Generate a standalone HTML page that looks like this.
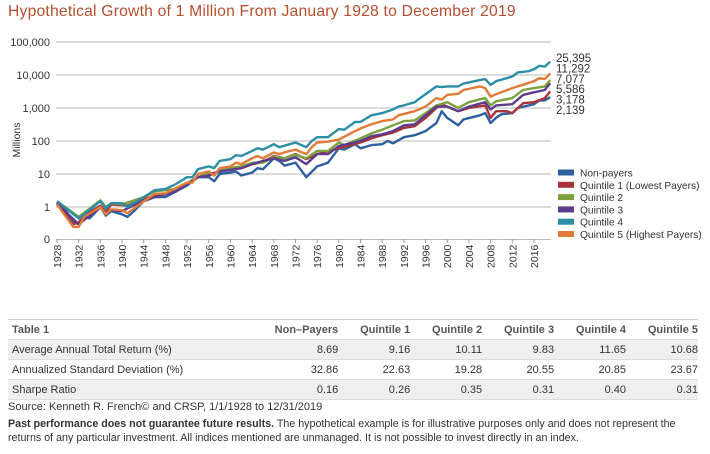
<!DOCTYPE html>
<html><head><meta charset="utf-8"><style>
body{margin:0;background:#fff;width:710px;height:454px;overflow:hidden;font-family:"Liberation Sans",sans-serif;}
.t{position:absolute;left:8px;top:3px;font-size:15.7px;color:#b4502e;letter-spacing:0.2px}
table{position:absolute;left:8px;top:319px;width:690px;border-collapse:collapse;font-size:11px;color:#333}
td{height:19px;padding:0;text-align:right;border-bottom:1px solid #ddd}
td:first-child{text-align:left;padding-left:4px}
tr.h td{font-weight:bold;color:#555;border-top:1px solid #ccc}
tr.g td{background:#efefef}
.s{position:absolute;left:8px;top:401px;font-size:11px;color:#333}
.d{position:absolute;left:8px;top:417px;font-size:10.7px;color:#333;line-height:14px;width:700px;white-space:nowrap}
</style></head><body>
<div class="t">Hypothetical Growth of 1 Million From January 1928 to December 2019</div>
<svg id="c" width="710" height="320" style="position:absolute;left:0;top:0" font-family="Liberation Sans, sans-serif"></svg>
<table>
<tr class="h"><td style="width:235px">Table 1</td><td>Non–Payers</td><td>Quintile 1</td><td>Quintile 2</td><td>Quintile 3</td><td>Quintile 4</td><td>Quintile 5</td></tr>
<tr class="g"><td>Average Annual Total Return (%)</td><td>8.69</td><td>9.16</td><td>10.11</td><td>9.83</td><td>11.65</td><td>10.68</td></tr>
<tr><td>Annualized Standard Deviation (%)</td><td>32.86</td><td>22.63</td><td>19.28</td><td>20.55</td><td>20.85</td><td>23.67</td></tr>
<tr class="g"><td>Sharpe Ratio</td><td>0.16</td><td>0.26</td><td>0.35</td><td>0.31</td><td>0.40</td><td>0.31</td></tr>
</table>
<div class="s">Source: Kenneth R. French© and CRSP, 1/1/1928 to 12/31/2019</div>
<div class="d"><b>Past performance does not guarantee future results.</b> The hypothetical example is for illustrative purposes only and does not represent the<br>returns of any particular investment. All indices mentioned are unmanaged. It is not possible to invest directly in an index.</div>
<script>
var s='',X=function(y){return 57+(y-1928)*5.42},Y=function(v){return 207-33*Math.log10(v)};
var labs=['100,000','10,000','1,000','100','10','1'];
for(var i=0;i<6;i++){var y=42+33*i;s+='<line x1="56" x2="551" y1="'+y+'" y2="'+y+'" stroke="#c8c8c8" stroke-width="1.3"/><text x="50" y="'+(y+4)+'" font-size="11" text-anchor="end" fill="#333">'+labs[i]+'</text>';}
s+='<line x1="56" x2="551" y1="239.5" y2="239.5" stroke="#bbb"/><text x="50" y="243" font-size="11" text-anchor="end" fill="#333">0</text>';
s+='<text transform="translate(20,140) rotate(-90)" font-size="10.5" text-anchor="middle" fill="#333">Millions</text>';
for(var yr=1928;yr<=2016;yr+=4){var x=X(yr);s+='<line x1="'+x+'" x2="'+x+'" y1="239" y2="243" stroke="#999"/><text transform="translate('+(x+4)+',268) rotate(-90)" font-size="10.5" fill="#333">'+yr+'</text>';}
var D={
'#2e5f9e':[1928,1.4,1929,1.1,1931,0.35,1932,0.3,1933,0.5,1934,0.45,1936,1.0,1937,0.55,1938,0.75,1940,0.6,1941,0.5,1942,0.7,1944,1.5,1946,2,1948,2,1950,3,1952,4.5,1954,8,1956,8,1957,6,1958,10,1960,11,1961,12,1962,9,1964,11,1965,15,1966,14,1968,30,1969,25,1970,18,1972,22,1974,8,1976,17,1978,22,1980,60,1981,55,1983,80,1984,60,1986,75,1988,80,1989,100,1990,85,1992,130,1994,150,1996,200,1998,350,1999,800,2000,500,2002,300,2003,450,2006,600,2007,700,2008,350,2009,500,2010,650,2012,700,2013,1000,2016,1300,2017,1700,2018,1700,2019,2139],
'#a8333a':[1928,1.3,1931,0.3,1932,0.35,1934,0.7,1936,1.1,1937,0.7,1938,1.2,1941,1.1,1944,1.8,1950,3,1954,8,1958,12,1962,15,1964,20,1966,23,1968,35,1970,30,1972,40,1974,28,1976,40,1980,60,1984,90,1986,120,1988,150,1990,180,1992,250,1994,280,1996,500,1998,1000,1999,1300,2000,1100,2002,800,2004,1000,2007,1200,2008,500,2009,800,2011,800,2012,700,2014,1400,2016,1500,2018,2000,2019,3178],
'#7ba23f':[1928,1.5,1932,0.5,1936,1.6,1937,1.0,1938,1.3,1940,1.2,1944,2,1946,3,1950,3.5,1954,8,1956,11,1957,9,1958,14,1962,17,1964,22,1966,22,1968,33,1970,30,1972,38,1974,30,1976,50,1978,50,1980,90,1981,75,1984,120,1986,170,1988,220,1990,300,1992,400,1994,420,1996,700,1998,1200,2000,1500,2002,1000,2004,1500,2007,2000,2008,1200,2009,1600,2012,2000,2014,3500,2016,4000,2018,4500,2019,7077],
'#5e3c8c':[1928,1.3,1932,0.3,1936,1.0,1937,0.6,1938,0.8,1940,0.75,1944,1.6,1946,2,1950,3,1954,8,1956,9,1958,12,1962,15,1964,20,1966,25,1968,30,1970,25,1972,32,1974,20,1976,40,1978,40,1980,70,1984,100,1986,140,1988,160,1990,200,1992,300,1994,320,1996,600,1998,1100,2000,1100,2002,800,2004,1100,2007,1500,2008,900,2009,1200,2012,1300,2014,2500,2016,3000,2018,3500,2019,5586],
'#e07b39':[1928,1.2,1931,0.25,1932,0.25,1933,0.5,1936,1,1937,0.6,1938,0.85,1940,0.8,1941,0.65,1944,1.5,1946,2.5,1948,2.6,1950,3.8,1952,5.5,1953,5.5,1954,10,1956,12,1957,9,1958,15,1960,17,1961,22,1962,20,1964,30,1965,35,1966,30,1968,45,1969,40,1970,45,1972,55,1974,40,1975,65,1976,90,1978,95,1980,110,1983,200,1984,240,1986,320,1988,400,1990,450,1991,600,1994,800,1996,1100,1998,2000,1999,1800,2000,2500,2002,2700,2003,3500,2006,4500,2007,4000,2008,2200,2009,2600,2012,4000,2016,6500,2017,8000,2018,7500,2019,11292],
'#2e8ea6':[1928,1.5,1932,0.45,1936,1.5,1937,0.9,1938,1.3,1940,1.3,1941,1.0,1944,2,1946,3.2,1948,3.5,1950,5,1952,8,1953,8,1954,14,1956,17,1957,15,1958,25,1960,28,1961,37,1962,35,1964,50,1965,60,1966,55,1968,80,1969,65,1970,72,1972,90,1974,65,1975,100,1976,130,1978,130,1980,230,1981,220,1983,380,1984,380,1986,600,1988,700,1990,900,1991,1100,1992,1200,1994,1500,1995,2000,1998,4500,1999,4300,2000,4500,2002,4500,2003,5500,2006,7000,2007,7500,2008,5000,2009,6500,2012,9000,2013,12000,2015,13000,2016,15000,2017,19000,2018,18000,2019,25395]};
for(var c in D){var a=D[c],p='';for(var j=0;j<a.length;j+=2)p+=(j?'L':'M')+X(a[j]).toFixed(1)+','+Y(a[j+1]).toFixed(1);s+='<path d="'+p+'" fill="none" stroke="'+c+'" stroke-width="2.4" stroke-linejoin="round"/>';}
var ends=['25,395','11,292','7,077','5,586','3,178','2,139'];
for(i=0;i<6;i++)s+='<text x="556" y="'+(62+10.4*i)+'" font-size="11.5" fill="#333">'+ends[i]+'</text>';
var L=[['#2e5f9e','Non-payers'],['#a8333a','Quintile 1 (Lowest Payers)'],['#7ba23f','Quintile 2'],['#5e3c8c','Quintile 3'],['#2e8ea6','Quintile 4'],['#e07b39','Quintile 5 (Highest Payers)']];
for(i=0;i<6;i++){var yy=172.5+12.3*i;s+='<rect x="558" y="'+(yy-3)+'" width="16" height="6" fill="'+L[i][0]+'"/><text x="580" y="'+(yy+4)+'" font-size="10.2" fill="#333">'+L[i][1]+'</text>';}
document.getElementById('c').innerHTML=s;
</script>
</body></html>
